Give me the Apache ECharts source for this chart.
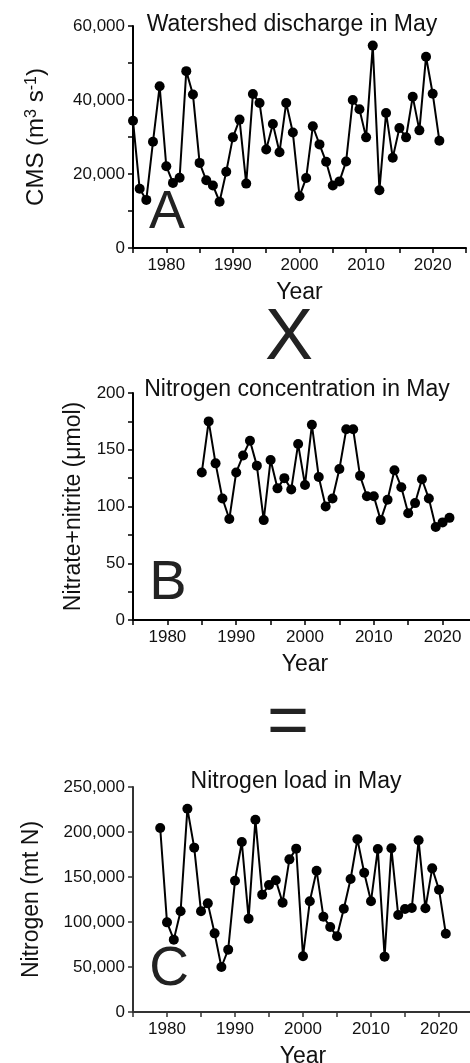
<!DOCTYPE html>
<html>
<head>
<meta charset="utf-8">
<script src="https://cdn.jsdelivr.net/npm/echarts@6/dist/echarts.min.js"></script>
<style>
  html, body { margin: 0; padding: 0; background: #fff; }
  #chart { width: 470px; height: 1063px; }
</style>
</head>
<body>
<div id="chart"></div>
<script>
// ---- Data ----
const yearsA = [1975,1976,1977,1978,1979,1980,1981,1982,1983,1984,1985,1986,1987,1988,1989,1990,1991,1992,1993,1994,1995,1996,1997,1998,1999,2000,2001,2002,2003,2004,2005,2006,2007,2008,2009,2010,2011,2012,2013,2014,2015,2016,2017,2018,2019,2020,2021];
const dischargeA = [34400,16000,13000,28700,43700,22100,17600,19000,47800,41500,23000,18300,16900,12500,20600,29900,34700,17400,41600,39200,26600,33500,25900,39200,31200,14000,18900,32900,28000,23300,16900,18000,23400,40000,37500,29900,54700,15600,36500,24400,32400,29900,40900,31800,51700,41700,29000];

const yearsB = [1985,1986,1987,1988,1989,1990,1991,1992,1993,1994,1995,1996,1997,1998,1999,2000,2001,2002,2003,2004,2005,2006,2007,2008,2009,2010,2011,2012,2013,2014,2015,2016,2017,2018,2019,2020,2021];
const nitrateB = [130,175,138,107,89,130,145,158,136,88,141,116,125,115,155,119,172,126,100,107,133,168,168,127,109,109,88,106,132,117,94,103,124,107,82,86,90];

const yearsC = [1979,1980,1981,1982,1983,1984,1985,1986,1987,1988,1989,1990,1991,1992,1993,1994,1995,1996,1997,1998,1999,2000,2001,2002,2003,2004,2005,2006,2007,2008,2009,2010,2011,2012,2013,2014,2015,2016,2017,2018,2019,2020,2021];
const loadC = [204400,99600,80400,111900,225900,182600,111900,120700,87400,50000,69300,145900,188900,103700,213700,130400,141100,146300,121500,169600,181500,61900,123000,157000,105900,94400,84100,114800,147800,191900,154800,123000,181100,61500,181900,107800,114500,115600,190800,115200,159600,135900,87000];

// tick labels
const xTickLabels = [1980, 1990, 2000, 2010, 2020];
const xRange = [1975, 2025];
const yTicksA = [0, 20000, 40000, 60000];
const yTicksB = [0, 50, 100, 150, 200];
const yTicksC = [0, 50000, 100000, 150000, 200000, 250000];

// text
const titles = ['Watershed discharge in May', 'Nitrogen concentration in May', 'Nitrogen load in May'];
const panelLetters = ['A', 'B', 'C'];
const yNames = ['{n|CMS (m}{s|3}{n| s}{s|-1}{n|)}', 'Nitrate+nitrite (\u03bcmol)', 'Nitrogen (mt N)'];
const xName = 'Year';
const operators = ['X', '='];

// ---- Chart ----
const FONT = 'Liberation Sans, Arial, Helvetica, sans-serif';
const INK = '#111';

function pairs(xs, ys) { return xs.map((x, i) => [x, ys[i]]); }
function fmt(v) { return v.toLocaleString('en-US'); }

function xAxisCfg(gi, axisColor) {
  return {
    gridIndex: gi, type: 'value', min: xRange[0], max: xRange[1], interval: 5,
    name: xName, nameLocation: 'middle', nameGap: 33,
    nameTextStyle: { fontFamily: FONT, fontSize: 23, color: INK },
    axisLine: { show: true, onZero: false, lineStyle: { color: axisColor, width: 2 } },
    axisTick: { show: true, inside: false, length: 5, lineStyle: { color: axisColor, width: 1.5 } },
    axisLabel: {
      margin: 9, fontFamily: FONT, fontSize: 17, color: INK,
      showMinLabel: true, showMaxLabel: true,
      formatter: v => (xTickLabels.indexOf(v) >= 0 ? String(v) : '')
    },
    splitLine: { show: false }
  };
}

function yAxisCfg(gi, ticks, name, gap, minorSplit, rich, axisColor) {
  return {
    gridIndex: gi, type: 'value', min: ticks[0], max: ticks[ticks.length - 1],
    interval: ticks[1] - ticks[0],
    name: name, nameLocation: 'middle', nameGap: gap,
    nameTextStyle: Object.assign({ fontFamily: FONT, fontSize: 23, color: INK }, rich ? { rich: rich } : {}),
    axisLine: { show: true, onZero: false, lineStyle: { color: axisColor, width: 2 } },
    axisTick: { show: true, inside: false, length: 5, lineStyle: { color: axisColor, width: 1.5 } },
    minorTick: { show: minorSplit > 0, splitNumber: minorSplit || 5, length: 5, lineStyle: { color: axisColor, width: 1.5 } },
    axisLabel: { margin: 8, fontFamily: FONT, fontSize: 17, color: INK, formatter: v => fmt(v) },
    splitLine: { show: false }
  };
}

function seriesCfg(i, xs, ys) {
  return {
    type: 'line', xAxisIndex: i, yAxisIndex: i, data: pairs(xs, ys),
    symbol: 'circle', symbolSize: 10, showSymbol: true,
    itemStyle: { color: '#000' }, lineStyle: { color: '#000', width: 2 },
    clip: false, animation: false
  };
}

function txt(x, y, text, size, color) {
  return {
    type: 'text', x: x, y: y, silent: true,
    style: {
      text: text, fontFamily: FONT, fontSize: size, fill: color || INK,
      textAlign: 'center', textVerticalAlign: 'middle', align: 'center', verticalAlign: 'middle'
    }
  };
}

const richA = {
  n: { fontFamily: FONT, fontSize: 24, lineHeight: 24, color: INK, verticalAlign: 'bottom' },
  s: { fontFamily: FONT, fontSize: 16, lineHeight: 16, color: INK, verticalAlign: 'top', padding: [0, 0, 15, 0] }
};

const chart = echarts.init(document.getElementById('chart'), null, { renderer: 'canvas' });
chart.setOption({
  animation: false,
  backgroundColor: '#fff',
  grid: [
    { left: 133, right: 4, top: 26, bottom: 815, containLabel: false, outerBoundsMode: 'none' },
    { left: 133, right: -7, top: 393, bottom: 443, containLabel: false, outerBoundsMode: 'none' },
    { left: 133, right: -3, top: 787, bottom: 51, containLabel: false, outerBoundsMode: 'none' }
  ],
  xAxis: [xAxisCfg(0, '#000'), xAxisCfg(1, '#000'), xAxisCfg(2, '#333')],
  yAxis: [
    yAxisCfg(0, yTicksA, yNames[0], 85, 2, richA, '#000'),
    yAxisCfg(1, yTicksB, yNames[1], 48, 2, null, '#000'),
    yAxisCfg(2, yTicksC, yNames[2], 90, 0, null, '#333')
  ],
  series: [
    seriesCfg(0, yearsA, dischargeA),
    seriesCfg(1, yearsB, nitrateB),
    seriesCfg(2, yearsC, loadC)
  ],
  graphic: { elements: [
    txt(292, 25, titles[0], 23),
    txt(297, 390, titles[1], 23),
    txt(296, 782, titles[2], 23),
    txt(167, 213, panelLetters[0], 54, '#222'),
    txt(168, 584, panelLetters[1], 56, '#222'),
    txt(169, 970, panelLetters[2], 55, '#222'),
    txt(289, 339, operators[0], 72, '#222'),
    txt(288, 724, operators[1], 72, '#222')
  ] }
});
</script>
</body>
</html>
